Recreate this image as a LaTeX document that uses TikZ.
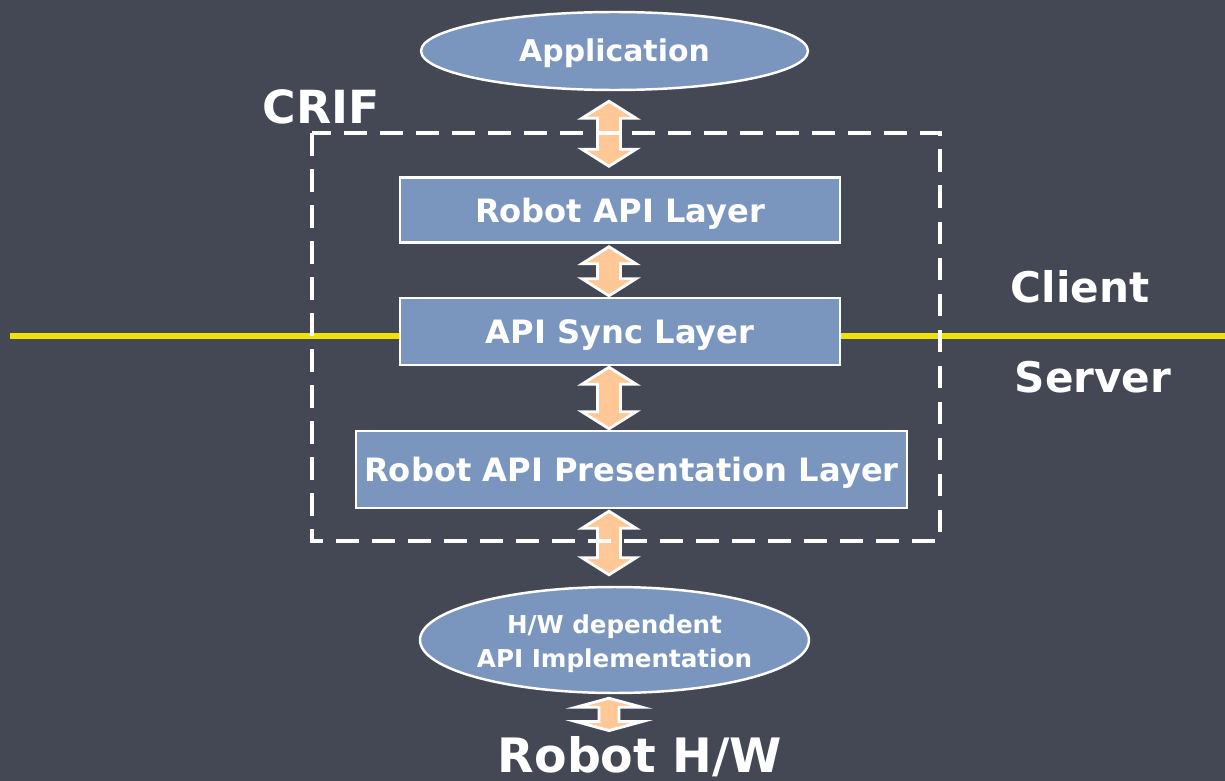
\documentclass[tikz,border=0pt]{standalone}
\usepackage{fontspec}
\setmainfont{DejaVu Sans}
\usetikzlibrary{shapes.geometric,calc}

\definecolor{board}{RGB}{68,72,84}
\definecolor{layerblue}{RGB}{123,150,190}
\definecolor{peach}{RGB}{255,200,150}
\definecolor{wireyellow}{RGB}{238,228,0}

\tikzset{
  layerbox/.style={draw=white, line width=1.4pt, fill=layerblue, text=white,
    font=\bfseries\fontsize{18.3}{22}\selectfont, inner sep=0pt,
    text height=18.5pt, text depth=4.3pt},
  endnode/.style={ellipse, draw=white, line width=1.4pt, fill=layerblue, text=white,
    inner sep=0pt, minimum width=7.74cm, align=center},
  updown/.style={fill=peach, draw=white, line width=1.6pt, line join=miter},
  wire/.style={wireyellow, line width=3.4pt},
  tag/.style={text=white, font=\bfseries\fontsize{24}{28}\selectfont, inner sep=0pt, anchor=base},
  frame/.style={white, line width=2.8pt, dash pattern=on 13pt off 7.5pt},
}

% fat double-headed arrow between two stacked nodes, along the (axis) column
\newcommand{\hlen}{17}
\newcommand{\hwid}{27}
\newcommand{\swid}{11.5}
\newcommand{\linkarrow}[4]{%
  \path (axis |- #1.south) ++(0,#3) coordinate (la-top)
        (axis |- #2.north) ++(0,-#4) coordinate (la-bot);
  \draw[updown] (la-top) -- ++(\hwid,\hlen) -- ++(\swid-\hwid,0)
    -- ($(la-bot)+(\swid,-\hlen)$) -- ++(\hwid-\swid,0) -- (la-bot)
    -- ++(-\hwid,-\hlen) -- ++(\hwid-\swid,0)
    -- ($(la-top)+(-\swid,\hlen)$) -- ++(\swid-\hwid,0) -- cycle;}

\begin{document}
\begin{tikzpicture}[x=0.02cm, y=-0.02cm]
  \fill[board] (0,0) rectangle (1225,781);
  \useasboundingbox (0,0) rectangle (1225,781);

  % layer stack
  \node[endnode, minimum height=1.56cm, font=\bfseries\fontsize{17}{20}\selectfont,
    text height=16.3pt, text depth=4pt] (app) at (614.5,51) {Application};
  \node[layerbox, minimum width=8.8cm, minimum height=1.3cm] (api) at (620,210) {Robot API Layer};
  \node[layerbox, minimum width=8.8cm, minimum height=1.34cm] (sync) at (620,331.5) {API Sync Layer};
  \node[layerbox, minimum width=11.02cm, minimum height=1.54cm] (pres) at (631.5,469.5)
    {Robot API Presentation Layer};
  \node[endnode, minimum height=2.12cm, font=\bfseries\fontsize{14}{19}\selectfont]
    (hw) at (614.5,640) {\rule{0pt}{15pt}H/W dependent\\API Implementation};
  \node[tag, font=\bfseries\fontsize{27}{32}\selectfont] (hwtext) at (640,772) {Robot H/W};

  % client / server split
  \coordinate (wire-l) at (10,336);
  \coordinate (wire-r) at (1225,336);
  \draw[wire] (wire-l) -- (sync.west |- wire-l);
  \draw[wire] (sync.east |- wire-r) -- (wire-r);
  \node[tag] (client) at (1080,302) {Client};
  \node[tag] (server) at (1093,392) {Server};

  % arrows between the layers
  \coordinate (axis) at (609,0);
  \linkarrow{app}{api}{10}{10}
  \linkarrow{api}{sync}{3}{1}
  \linkarrow{sync}{pres}{1}{1}
  \linkarrow{pres}{hw}{2}{11}
  \renewcommand{\hlen}{9}\renewcommand{\hwid}{33}\renewcommand{\swid}{10}
  \linkarrow{hw}{hwtext}{4}{5}

  % CRIF boundary
  \draw[frame] (312,133) rectangle (940,541);
  \node[tag, font=\bfseries\fontsize{26}{30}\selectfont] (crif) at (321,123) {CRIF};
\end{tikzpicture}
\end{document}
